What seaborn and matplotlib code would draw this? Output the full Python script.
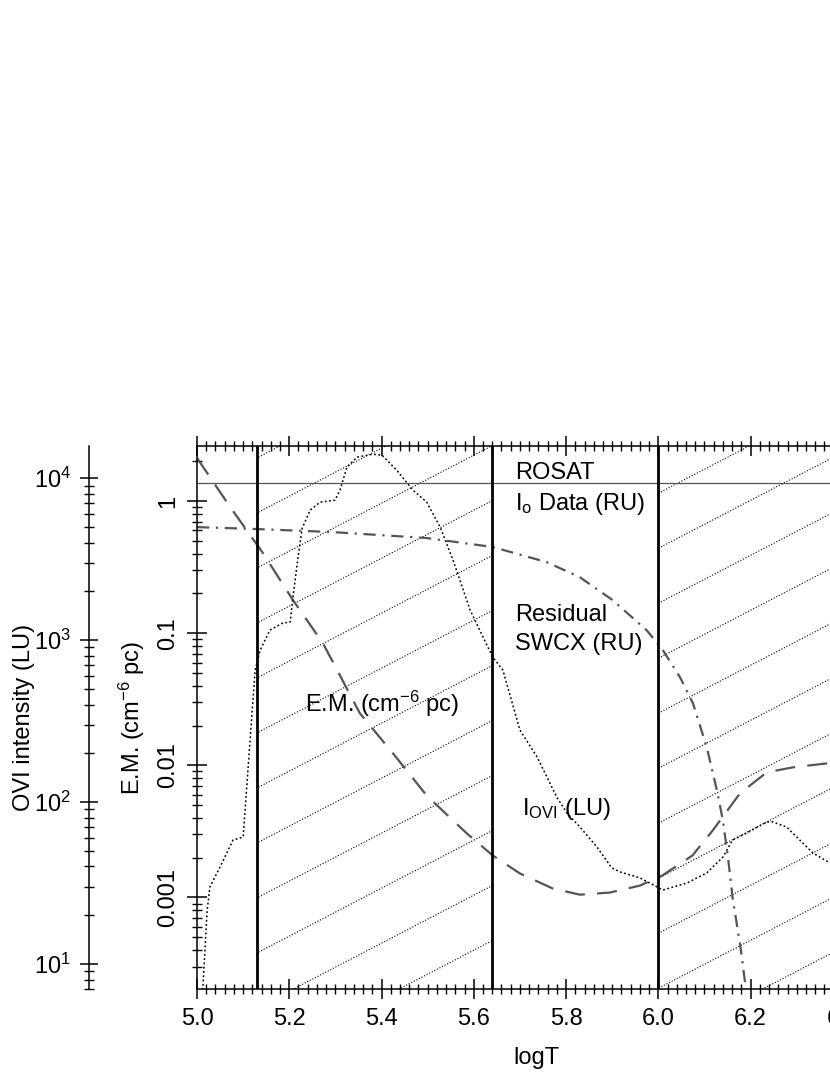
"""
Emission measure vs temperature with OVI intensity, ROSAT and SWCX levels.
"""

import matplotlib
matplotlib.use("Agg")
import matplotlib.pyplot as plt
import matplotlib.ticker as mticker
from matplotlib.patches import Rectangle
from matplotlib.transforms import blended_transform_factory
import seaborn as sns

# ---- data ----
em_logt = [5.000, 5.072, 5.143, 5.208, 5.273, 5.353, 5.425, 5.498, 5.585, 5.641,
           5.700, 5.771, 5.830, 5.895, 5.960, 6.009, 6.074, 6.118, 6.177, 6.235,
           6.292, 6.350, 6.372]
em_val = [2.12, 0.90, 0.404, 0.178, 0.084, 0.0248, 0.0123, 0.0059, 0.00305, 0.00208,
          0.00152, 0.00117, 0.00105, 0.00109, 0.00123, 0.00147, 0.00208, 0.00322,
          0.00614, 0.00885, 0.00966, 0.0102, 0.0104]

swcx_logt = [5.000, 5.130, 5.295, 5.498, 5.641, 5.758, 5.830, 5.901, 5.975, 6.010,
             6.047, 6.075, 6.105, 6.127, 6.140, 6.151, 6.161, 6.179, 6.190]
swcx_val = [0.635, 0.614, 0.582, 0.525, 0.449, 0.345, 0.265, 0.178, 0.105, 0.0743,
            0.0464, 0.0295, 0.0137, 0.00647, 0.00383, 0.00201, 0.00100, 0.00040, 0.00020]

ovi_logt = [5.012, 5.022, 5.028, 5.050, 5.078, 5.100, 5.126, 5.137, 5.158, 5.186,
            5.202, 5.208, 5.219, 5.228, 5.245, 5.267, 5.299, 5.310, 5.325, 5.347,
            5.381, 5.401, 5.433, 5.468, 5.498, 5.527, 5.555, 5.592, 5.620, 5.641,
            5.663, 5.700, 5.737, 5.780, 5.802, 5.830, 5.867, 5.899, 5.917, 5.960,
            6.010, 6.062, 6.105, 6.140, 6.161, 6.192, 6.235, 6.248, 6.278, 6.335,
            6.372]
ovi_val = [6.5, 21.5, 29.9, 39.7, 58.2, 60.8, 653, 867, 1153, 1274,
           1291, 1841, 3251, 4909, 6339, 7112, 7311, 8433, 11695, 13490,
           14060, 13870, 11194, 8433, 7112, 4989, 3119, 1531, 1045, 785,
           653, 278, 190, 107, 85.5, 70.1, 52.7, 39.2, 37.0, 34.0,
           28.6, 31.6, 36.5, 45.7, 58.2, 64.4, 75.3, 75.3, 70.1, 48.4,
           42.0]

rosat_level = 1.37
boundaries = [5.13, 5.64, 6.0]
hatch_start = [5.13, 6.0]
hatch_end = [5.64, 6.5]
hatch_phase = [0.009, 0.066]

GREY = "#555555"
FS = 17

sns.set_style("ticks")
plt.rcParams["font.family"] = ["Liberation Sans", "DejaVu Sans"]
plt.rcParams["mathtext.fontset"] = "custom"
plt.rcParams["mathtext.rm"] = "Liberation Sans"
plt.rcParams["mathtext.it"] = "Liberation Sans:italic"
plt.rcParams["mathtext.bf"] = "Liberation Sans:bold"
for key in ["text.color", "axes.labelcolor", "xtick.color", "ytick.color",
            "axes.edgecolor"]:
    plt.rcParams[key] = "black"

fig = plt.figure(figsize=(8.3, 10.75), dpi=100)
fig.patch.set_facecolor("white")
ax = fig.add_axes([197 / 830, 86 / 1075, 692 / 830, 543 / 1075])
ax.set_yscale("log")
ax.set_xlim(5.0, 6.5)
ax.set_ylim(2.03e-4, 2.61)

# hatching of the two temperature bands
blend = blended_transform_factory(ax.transData, ax.transAxes)
slope = 0.52 * 692 / 543
step = 55 / 543
for x0, x1, phase in zip(hatch_start, hatch_end, hatch_phase):
    clip = Rectangle((x0, 0), x1 - x0, 1, transform=blend)
    for k in range(-12, 12):
        c = phase + k * step
        ln, = ax.plot([0, 1], [c, c + slope], transform=ax.transAxes,
                      color="black", lw=0.8, linestyle=(0, (1, 1.6)))
        ln.set_clip_path(clip)

for b in boundaries:
    ax.axvline(b, color="black", lw=2.0, zorder=4)

ax.axhline(rosat_level, color=GREY, lw=0.9)

sns.lineplot(x=em_logt, y=em_val, ax=ax, color=GREY, lw=1.6,
             linestyle=(0, (9, 5.5)))
sns.lineplot(x=swcx_logt, y=swcx_val, ax=ax, color=GREY, lw=1.6,
             linestyle=(0, (5.5, 3, 1, 3)))

ax.set_xlim(5.0, 6.5)
ax.set_ylim(2.03e-4, 2.61)

# OVI intensity axis, pushed out to the left
ax_ovi = ax.twinx()
ax_ovi.set_yscale("log")
sns.lineplot(x=ovi_logt, y=ovi_val, ax=ax_ovi, color="black", lw=1.1,
             linestyle=(0, (1.2, 1.6)))
ax_ovi.set_ylim(7.0, 15800)
ax_ovi.set_xlim(5.0, 6.5)
for side in ["right", "top", "bottom"]:
    ax_ovi.spines[side].set_visible(False)
ax_ovi.spines["left"].set_visible(True)
ax_ovi.spines["left"].set_position(("outward", 77.8))
ax_ovi.spines["left"].set_linewidth(1.1)
ax_ovi.yaxis.set_ticks_position("left")
ax_ovi.yaxis.set_label_position("left")
ax_ovi.yaxis.set_major_locator(mticker.LogLocator(base=10))
ax_ovi.yaxis.set_minor_locator(mticker.LogLocator(base=10, subs=range(2, 10)))
ax_ovi.yaxis.set_minor_formatter(mticker.NullFormatter())
ax_ovi.tick_params(axis="y", which="major", direction="inout", length=13,
                   width=1.1, labelsize=FS, pad=6.5)
ax_ovi.tick_params(axis="y", which="minor", direction="inout", length=6.5,
                   width=1.0)
ax_ovi.set_ylabel("OVI intensity (LU)", fontsize=FS)
ax_ovi.yaxis.set_label_coords(-0.234, 0.5)

# main axis ticks
ax.xaxis.set_major_locator(mticker.MultipleLocator(0.2))
ax.xaxis.set_minor_locator(mticker.MultipleLocator(0.02))
ax.xaxis.set_major_formatter(mticker.FormatStrFormatter("%.1f"))
ax.yaxis.set_major_locator(mticker.LogLocator(base=10))
ax.yaxis.set_minor_locator(mticker.LogLocator(base=10, subs=range(2, 10)))
ax.yaxis.set_major_formatter(mticker.FuncFormatter(lambda v, p: f"{v:g}"))
ax.yaxis.set_minor_formatter(mticker.NullFormatter())
ax.tick_params(axis="both", which="major", direction="inout", length=14,
               width=1.1, labelsize=FS, top=True, right=False)
ax.tick_params(axis="both", which="minor", direction="inout", length=7,
               width=1.0, top=True, right=False)
ax.tick_params(axis="x", which="major", pad=7)
ax.tick_params(axis="y", which="major", labelrotation=90, pad=6)
for sp in ax.spines.values():
    sp.set_linewidth(1.1)

ax.set_xlabel("logT", fontsize=FS)
ax.xaxis.set_label_coords(0.491, -0.107)
ax.set_ylabel(r"E.M. (cm$^{-6}$ pc)", fontsize=FS)
ax.yaxis.set_label_coords(-0.072, 0.5)

# annotations
ax.text(5.689, 1.47, "ROSAT", fontsize=FS)
ax.text(5.689, 0.855, r"I$_\mathrm{o}$ Data (RU)", fontsize=FS)
ax.text(5.689, 0.123, "Residual", fontsize=FS)
ax.text(5.689, 0.0743, "SWCX (RU)", fontsize=FS)
ax.text(5.234, 0.0252, r"E.M. (cm$^{-6}$ pc)", fontsize=FS)
ax.text(5.704, 0.00418, r"I$_\mathrm{OVI}$ (LU)", fontsize=FS)

fig.canvas.draw()
for lab in ax.get_yticklabels():
    lab.set_va("center")

fig.savefig("out.png", dpi=100, facecolor="white")
